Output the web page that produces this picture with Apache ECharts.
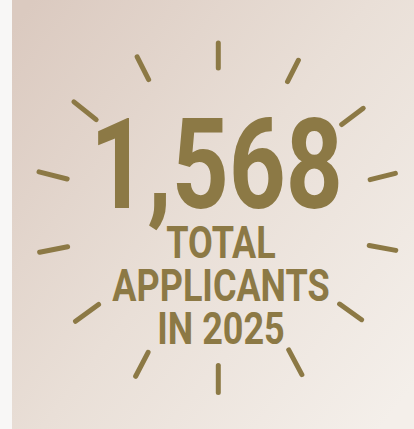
<!DOCTYPE html>
<html>
<head>
<meta charset="utf-8">
<style>
  html, body { margin: 0; padding: 0; background: #f7f5f3; }
  #chart { width: 414px; height: 429px; }
</style>
<script src="https://cdn.jsdelivr.net/npm/echarts@6/dist/echarts.min.js"></script>
</head>
<body>
<div id="chart"></div>
<script>
// ---- data ----
const totalApplicants = 1568;
const labelLines = ['TOTAL', 'APPLICANTS', 'IN 2025'];
// burst rays: direction (degrees clockwise from up), inner and outer reach (px from centre)
const rayAngles = [0, 27, 53, 76, 100.5, 125.5, 152, 180, 207.5, 234, 259, 284.3, 308.7, 333.2];
const rayInner  = [147, 150, 152, 154, 151, 146.5, 147.5, 145.5, 149.5, 145.5, 151, 153.5, 154, 152];
const rayOuter  = [177, 179, 184, 185, 183, 178.5, 180.5, 177.5, 181.5, 179, 184.5, 187.5, 187.5, 182.5];

const GOLD = '#8c7945';
const RAY_W = 5;
const FONT = 'Roboto, "DejaVu Sans Condensed", sans-serif';

const rays = rayAngles.map((a, i) => [rayInner[i], rayOuter[i], a]);

const chart = echarts.init(document.getElementById('chart'), null, { renderer: 'svg' });

const option = {
  backgroundColor: new echarts.graphic.LinearGradient(0, 0.1, 1, 0.9, [
    { offset: 0, color: '#dbcac0' },
    { offset: 0.5, color: '#e9dfd7' },
    { offset: 1, color: '#f4efea' }
  ]),
  animation: false,
  polar: { center: [218.3, 217.5], radius: 200 },
  radiusAxis: { type: 'value', min: 0, max: 200, show: false },
  angleAxis: {
    type: 'value', min: 0, max: 360, startAngle: 90, clockwise: true, show: false
  },
  series: [{
    type: 'custom',
    coordinateSystem: 'polar',
    data: rays,
    encode: { radius: 0, angle: 2 },
    renderItem: function (params, api) {
      const r0 = api.value(0) + RAY_W / 2;
      const r1 = api.value(1) - RAY_W / 2;
      const a = api.value(2);
      const p0 = api.coord([r0, a]);
      const p1 = api.coord([r1, a]);
      return {
        type: 'line',
        shape: { x1: p0[0], y1: p0[1], x2: p1[0], y2: p1[1] },
        style: { stroke: GOLD, lineWidth: RAY_W, lineCap: 'round' }
      };
    }
  }],
  graphic: [
    { type: 'rect', left: 0, top: 0, shape: { width: 12, height: 429 }, style: { fill: '#f8f7f6' }, silent: true },
    {
      type: 'text', x: 216.5, y: 165, scaleX: 0.79,
      style: {
        text: totalApplicants.toLocaleString('en-US'),
        fill: GOLD,
        fontFamily: FONT, fontWeight: 'bold', fontSize: 126, lineHeight: 100,
        align: 'center', verticalAlign: 'middle'
      }
    },
    {
      type: 'text', x: 221, y: 286, scaleX: 0.8,
      style: {
        text: labelLines.join('\n'),
        fill: GOLD,
        fontFamily: FONT, fontWeight: 'bold', fontSize: 45, lineHeight: 43,
        align: 'center', verticalAlign: 'middle'
      }
    }
  ]
};
chart.setOption(option);
</script>
</body>
</html>
